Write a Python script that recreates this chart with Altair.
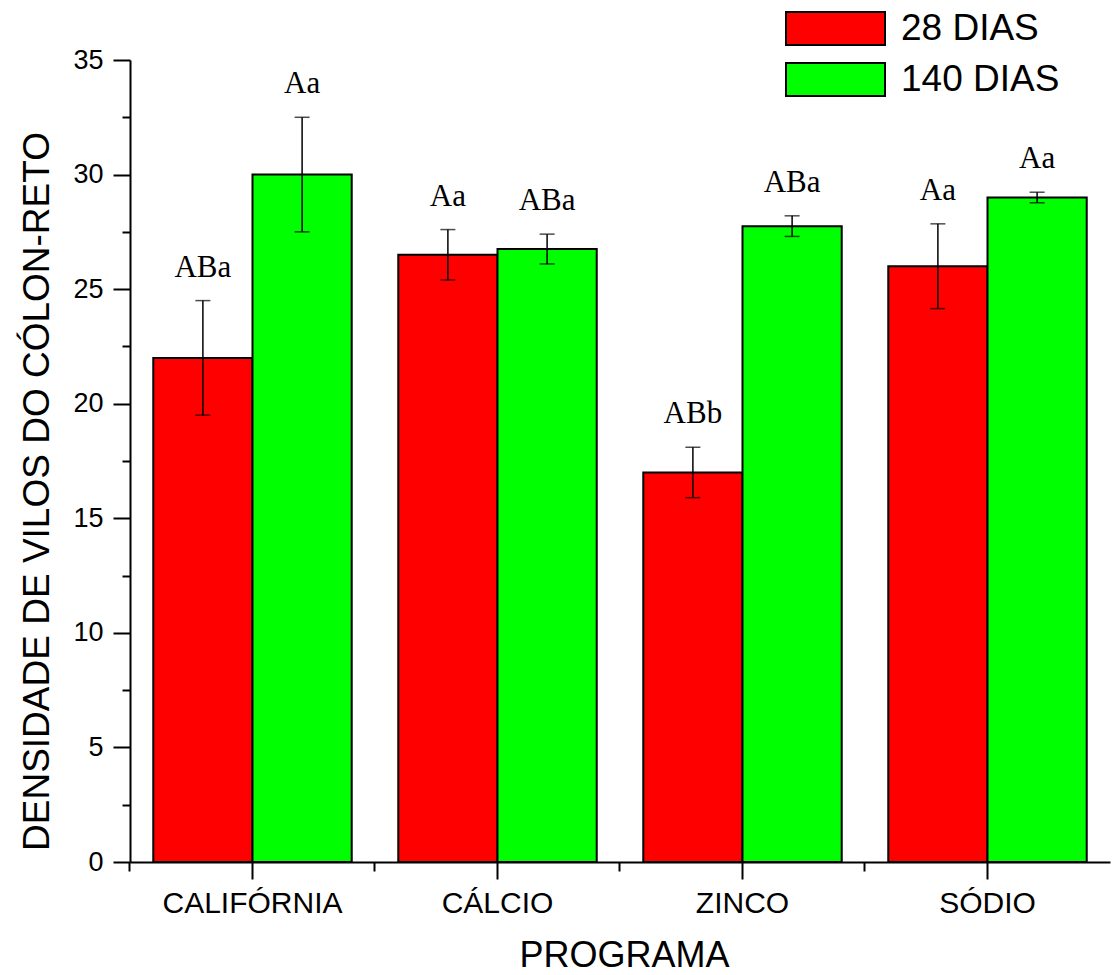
import altair as alt
import pandas as pd

programs = ["CALIFÓRNIA", "CÁLCIO", "ZINCO", "SÓDIO"]
periods = ["28 DIAS", "140 DIAS"]
means_28 = [22.0, 26.5, 17.0, 26.0]
sd_28 = [2.5, 1.1, 1.1, 1.85]
means_140 = [30.0, 26.75, 27.75, 29.0]
sd_140 = [2.5, 0.65, 0.45, 0.23]
letters_28 = ["ABa", "Aa", "ABb", "Aa"]
letters_140 = ["Aa", "ABa", "ABa", "Aa"]
colors = ["#ff0000", "#00ff00"]

rows = []
for per, means, sds, letters in [
    (periods[0], means_28, sd_28, letters_28),
    (periods[1], means_140, sd_140, letters_140),
]:
    for p, m, s, l in zip(programs, means, sds, letters):
        rows.append({"program": p, "period": per, "mean": m, "sd": s,
                     "lo": m - s, "hi": m + s, "letter": l})
df = pd.DataFrame(rows)

FONT = "Liberation Sans"

xscale = alt.Scale(paddingInner=0.19, paddingOuter=0.095)
yscale = alt.Scale(domain=[0, 35], nice=False)

x_main = alt.X("program:N", sort=programs, scale=xscale,
               axis=alt.Axis(title="PROGRAMA", labelAngle=0, labelFontSize=30,
                             labelFont=FONT, labelColor="black", labelPadding=9,
                             labelLimit=400,
                             tickSize=17, tickWidth=2, tickColor="black",
                             domainColor="black", domainWidth=2,
                             titleFont=FONT, titleFontSize=36, titleFontWeight="normal",
                             titleColor="black", titleX=494, titleY=104,
                             titleBaseline="alphabetic"))
xoff = alt.XOffset("period:N", sort=periods, scale=alt.Scale(paddingInner=0, paddingOuter=0))
y_main = alt.Y("mean:Q", scale=yscale,
               axis=alt.Axis(title="DENSIDADE DE VILOS DO CÓLON-RETO", values=[0, 5, 10, 15, 20, 25, 30, 35],
                             grid=False, labelFontSize=27, labelFont=FONT, labelColor="black",
                             labelPadding=10, tickSize=17, tickWidth=2, tickColor="black",
                             domainColor="black", domainWidth=2,
                             titleFont=FONT, titleFontSize=37, titleFontWeight="normal",
                             titleColor="black", titleAngle=270, titleX=-82, titleY=431,
                             titleBaseline="alphabetic", titleAlign="center"))

base = alt.Chart(df)

bars = base.mark_bar(stroke="black", strokeWidth=2).encode(
    x=x_main,
    xOffset=xoff,
    y=y_main,
    color=alt.Color("period:N", sort=periods,
                    scale=alt.Scale(domain=periods, range=colors),
                    legend=alt.Legend(title=None, orient="none", legendX=687, legendY=-50,
                                      symbolType="M-3,-1H3V1H-3Z", symbolSize=1089,
                                      symbolStrokeColor="black", symbolStrokeWidth=2,
                                      symbolOpacity=1,
                                      labelFont=FONT, labelFontSize=37, labelColor="black",
                                      labelOffset=47, rowPadding=10, padding=0,
                                      labelLimit=300)),
)

rules = base.mark_rule(color="black", strokeWidth=1.5).encode(
    x=alt.X("program:N", sort=programs, scale=xscale),
    xOffset=xoff,
    y=alt.Y("lo:Q", scale=yscale),
    y2="hi:Q",
)
cap_hi = base.mark_tick(color="black", thickness=1.5, size=15, orient="horizontal").encode(
    x=alt.X("program:N", sort=programs, scale=xscale),
    xOffset=xoff,
    y=alt.Y("hi:Q", scale=yscale),
)
cap_lo = base.mark_tick(color="black", thickness=1.5, size=15, orient="horizontal").encode(
    x=alt.X("program:N", sort=programs, scale=xscale),
    xOffset=xoff,
    y=alt.Y("lo:Q", scale=yscale),
)
labels = base.mark_text(font="Liberation Serif", fontSize=31, baseline="alphabetic",
                        dy=-24, color="black").encode(
    x=alt.X("program:N", sort=programs, scale=xscale),
    xOffset=xoff,
    y=alt.Y("hi:Q", scale=yscale),
    text="letter:N",
)

main = alt.layer(bars, rules, cap_hi, cap_lo, labels)

minor = base.mark_point(opacity=0).encode(
    x=alt.X("program:N", sort=programs, scale=xscale,
            axis=alt.Axis(orient="bottom", title=None, labels=False, domain=False,
                          tickSize=9, tickWidth=2, tickColor="black", bandPosition=-0.1174)),
    y=alt.Y("mean:Q", scale=yscale,
            axis=alt.Axis(orient="left", title=None, labels=False, domain=False, grid=False,
                          values=[2.5, 7.5, 12.5, 17.5, 22.5, 27.5, 32.5],
                          tickSize=8, tickWidth=2, tickColor="black")),
)

chart = alt.layer(main, minor).resolve_axis(x="independent", y="independent").properties(
    width=980, height=802,
    autosize=alt.AutoSizeParams(type="none"),
    padding={"left": 130, "top": 60, "right": 3, "bottom": 113},
    background="white",
).configure_view(stroke=None)

chart.save("out.html", embed_options={"renderer": "svg", "actions": False})
